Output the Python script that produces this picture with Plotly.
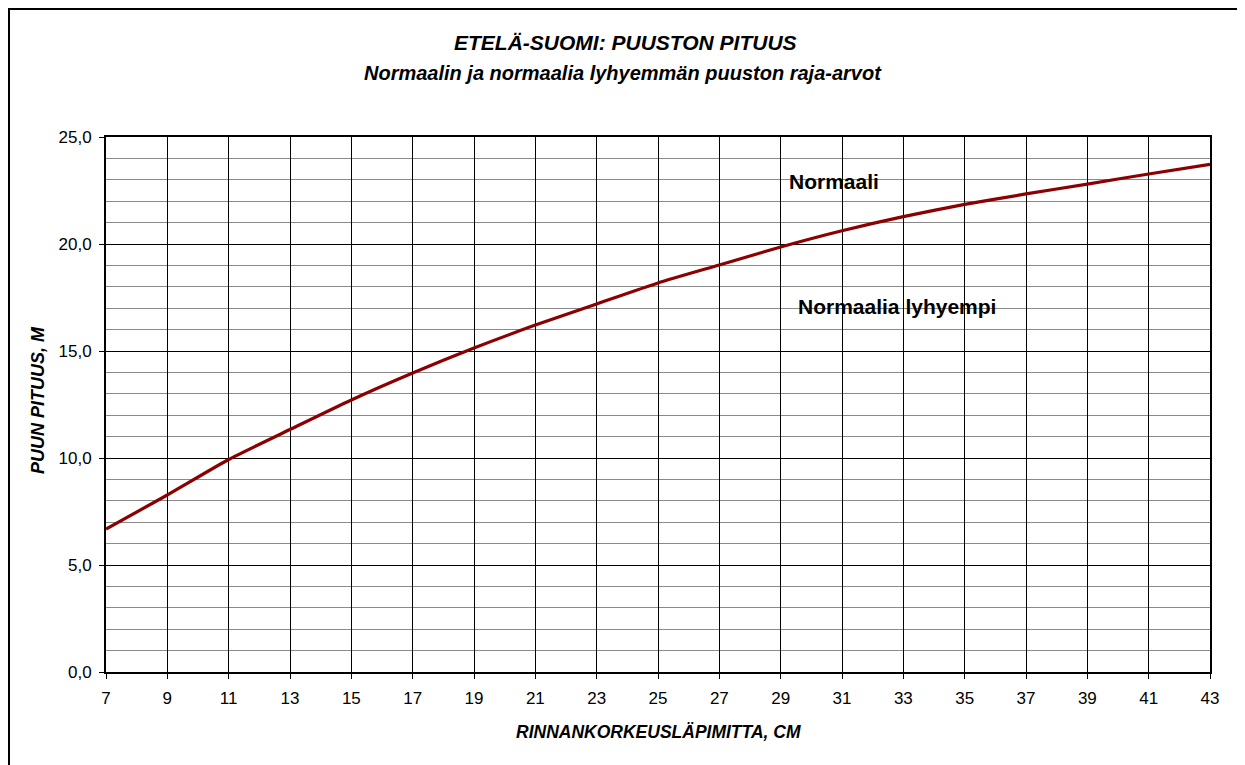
import plotly.graph_objects as go

diameter_cm = [7, 9, 11, 13, 15, 17, 19, 21, 23, 25, 27, 29, 31, 33, 35, 37, 39, 41, 43]
height_m = [6.68, 8.27, 9.93, 11.33, 12.71, 13.97, 15.14, 16.21, 17.2, 18.18, 19.02,
            19.86, 20.62, 21.28, 21.85, 22.34, 22.8, 23.27, 23.72]

title_lines = ["ETELÄ-SUOMI: PUUSTON PITUUS", "Normaalin ja normaalia lyhyemmän puuston raja-arvot"]
x_title = "RINNANKORKEUSLÄPIMITTA, CM"
y_title = "PUUN PITUUS, M"
label_upper = "Normaali"
label_lower = "Normaalia lyhyempi"

FONT = "Liberation Sans, Arial, sans-serif"

# page has an 8px body margin; figure laid out so the plot area lands at x 106..1210, y 137..672
W, H = 1237, 757
L, T = 98, 129
PW, PH = 1104, 535


def px(X):
    return (X - 8 - L) / PW


def py(Y):
    return (T + PH - (Y - 8)) / PH


fig = go.Figure()
fig.add_trace(go.Scatter(
    x=diameter_cm, y=height_m, mode="lines",
    line=dict(color="#8B0000", width=3.2, shape="spline", smoothing=0.6),
    showlegend=False, hoverinfo="x+y",
))

fig.add_annotation(x=29.2, y=22.9, text="<b>" + label_upper + "</b>", showarrow=False,
                   xanchor="left", yanchor="middle", font=dict(family=FONT, size=21, color="black"))
fig.add_annotation(x=29.5, y=17.1, text="<b>" + label_lower + "</b>", showarrow=False,
                   xanchor="left", yanchor="middle", font=dict(family=FONT, size=21, color="black"))

fig.add_annotation(xref="paper", yref="paper", x=px(625), y=py(43),
                   text="<b><i>" + title_lines[0] + "</i></b>", showarrow=False,
                   xanchor="center", yanchor="middle", font=dict(family=FONT, size=21, color="black"))
fig.add_annotation(xref="paper", yref="paper", x=px(623), y=py(73),
                   text="<b><i>" + title_lines[1] + "</i></b>", showarrow=False,
                   xanchor="center", yanchor="middle", font=dict(family=FONT, size=20, color="black"))

fig.add_annotation(xref="paper", yref="paper", x=px(658), y=py(732),
                   text="<b><i>" + x_title + "</i></b>", showarrow=False,
                   xanchor="center", yanchor="middle", font=dict(family=FONT, size=17.5, color="black"))
fig.add_annotation(xref="paper", yref="paper", x=px(38), y=py(400),
                   text="<b><i>" + y_title + "</i></b>", showarrow=False, textangle=-90,
                   xanchor="center", yanchor="middle", font=dict(family=FONT, size=18, color="black"))

# outer chart border (bottom edge falls outside the visible window)
fig.add_shape(type="rect", xref="paper", yref="paper",
              x0=px(9), x1=px(1238),
              y0=py(775), y1=py(9),
              line=dict(color="black", width=2), layer="below")

fig.update_xaxes(
    range=[7, 43], tickmode="linear", tick0=7, dtick=2,
    showgrid=True, gridcolor="black", gridwidth=1.3,
    showline=True, linecolor="black", linewidth=2, mirror=True,
    ticks="outside", ticklen=5, tickcolor="black", ticklabelstandoff=5,
    tickfont=dict(family=FONT, size=17, color="black"),
    zeroline=False,
)
fig.update_yaxes(
    range=[0, 25], tickmode="linear", tick0=0, dtick=5, tickformat=".1f",
    showgrid=True, gridcolor="black", gridwidth=1.3,
    minor=dict(dtick=1, showgrid=True, gridcolor="#8a8a8a", gridwidth=1),
    showline=True, linecolor="black", linewidth=2, mirror=True,
    ticks="outside", ticklen=5, tickcolor="black", ticklabelstandoff=4,
    tickfont=dict(family=FONT, size=17, color="black"),
    zeroline=False,
)

fig.update_layout(
    width=W, height=H,
    margin=dict(l=L, r=W - L - PW, t=T, b=H - T - PH),
    paper_bgcolor="white", plot_bgcolor="white",
    separators=", ",
    font=dict(family=FONT, color="black"),
)

fig.write_html("out.html")
